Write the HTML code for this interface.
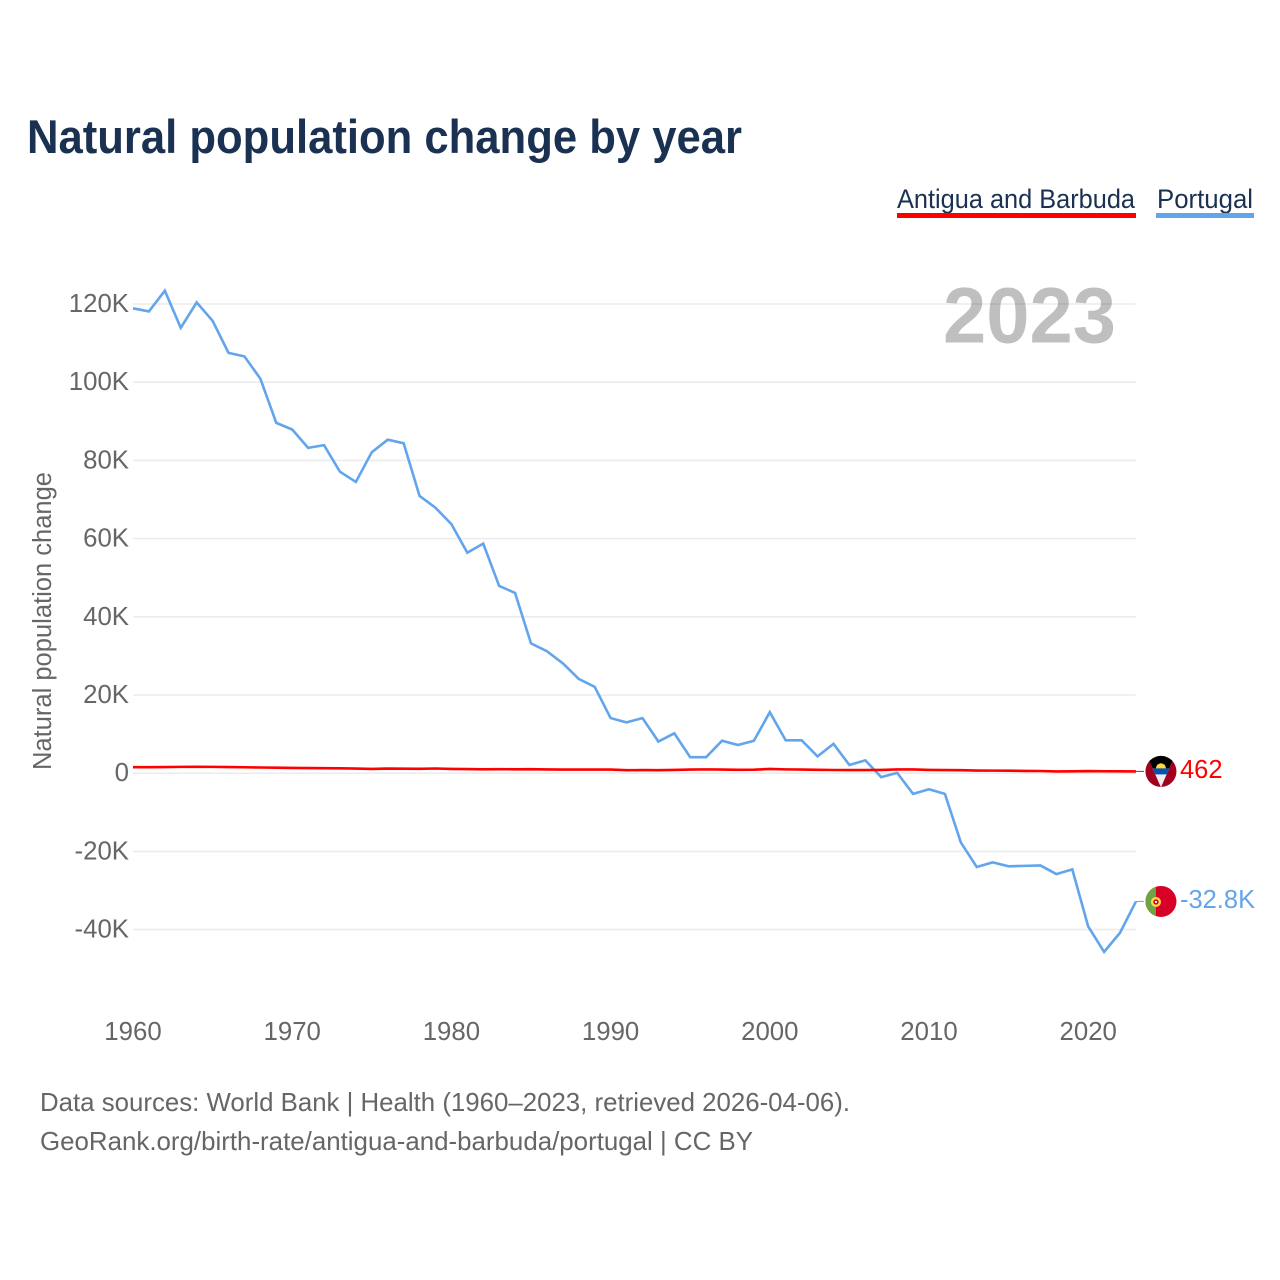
<!DOCTYPE html>
<html lang="en">
<head>
<meta charset="utf-8">
<title>Natural population change by year</title>
<style>
html,body{margin:0;padding:0;background:#fff;width:1280px;height:1280px;overflow:hidden}
svg{display:block}
text{font-family:"Liberation Sans",sans-serif}
</style>
</head>
<body>
<svg id="chart" xmlns="http://www.w3.org/2000/svg" width="1280" height="1280" viewBox="0 0 1280 1280">
  <defs>
    <clipPath id="flag-clip"><circle cx="0" cy="0" r="15.5"/></clipPath>
    <clipPath id="v-clip"><polygon points="-14,-16 14,-16 0,16"/></clipPath>
  </defs>
  <rect x="0" y="0" width="1280" height="1280" fill="#fff"/>
  <text x="27" y="153" font-size="47" font-weight="700" fill="#1a3152" textLength="715" lengthAdjust="spacingAndGlyphs">Natural population change by year</text>

  <g>
    <text x="897" y="208" font-size="26.5" fill="#1a3152" textLength="238" lengthAdjust="spacingAndGlyphs">Antigua and Barbuda</text>
    <rect x="897" y="213" width="239" height="5" fill="#ff0000"/>
  </g>
  <g>
    <text x="1157" y="208" font-size="26.5" fill="#1a3152" textLength="96" lengthAdjust="spacingAndGlyphs">Portugal</text>
    <rect x="1156" y="213" width="98" height="5" fill="#62a5ec"/>
  </g>

  <g id="grid"></g>
  <g id="yticks"></g>
  <g id="xticks"></g>

  <text transform="translate(51 770) rotate(-90)" x="0" y="0" font-size="25.5" fill="#666" textLength="298" lengthAdjust="spacingAndGlyphs">Natural population change</text>

  <text x="943" y="342.5" font-size="79" font-weight="700" fill="#000" fill-opacity="0.25" textLength="173" lengthAdjust="spacingAndGlyphs">2023</text>

  <g id="series"></g>

  <g id="flag-antigua">
    <g clip-path="url(#flag-clip)">
      <rect x="-16" y="-16" width="32" height="32" fill="#a2001d"/>
      <polygon points="-14,-16 14,-16 0,16" fill="#f0f0f0"/>
      <g clip-path="url(#v-clip)">
        <rect x="-16" y="-16" width="32" height="13" fill="#000"/>
        <rect x="-16" y="-3" width="32" height="6" fill="#0052b4"/>
        <path d="M-5,-3 A5,5 0 0 1 5,-3 Z" fill="#ffda44"/>
        <polygon points="-4.5,-4 -3.5,-7 -1.5,-6 0,-8.5 1.5,-6 3.5,-7 4.5,-4" fill="#ffda44"/>
      </g>
    </g>
  </g>
  <g id="flag-portugal">
    <g clip-path="url(#flag-clip)">
      <rect x="-16" y="-16" width="32" height="32" fill="#d80027"/>
      <rect x="-16" y="-16" width="11" height="32" fill="#6da544"/>
      <circle cx="-5" cy="0.5" r="5" fill="#ffda44"/>
      <circle cx="-5" cy="0.5" r="2.7" fill="#d80027"/>
      <circle cx="-5" cy="0.5" r="1.2" fill="#f0f0f0"/>
    </g>
  </g>

  <text x="40" y="1111" font-size="26" fill="#666" textLength="810" lengthAdjust="spacingAndGlyphs">Data sources: World Bank | Health (1960–2023, retrieved 2026-04-06).</text>
  <text x="40" y="1150" font-size="26" fill="#666" textLength="713" lengthAdjust="spacingAndGlyphs">GeoRank.org/birth-rate/antigua-and-barbuda/portugal | CC BY</text>
</svg>
<script>
// Chart data (thousands of people per year)
const startYear = 1960;
const xTickYears = [1960, 1970, 1980, 1990, 2000, 2010, 2020];
const yTickValues = [120, 100, 80, 60, 40, 20, 0, -20, -40];
const yTickLabels = ['120K', '100K', '80K', '60K', '40K', '20K', '0', '-20K', '-40K'];
const portugalValues = [
  118.9, 118.1, 123.4, 113.9, 120.4, 115.7, 107.5, 106.6, 100.9, 89.6,
  87.9, 83.2, 83.9, 77.1, 74.5, 82.1, 85.3, 84.4, 70.9, 67.9,
  63.7, 56.4, 58.7, 47.9, 46.1, 33.2, 31.2, 28.1, 24.1, 22.1,
  14.1, 13.0, 14.1, 8.1, 10.2, 4.1, 4.1, 8.3, 7.2, 8.3,
  15.6, 8.4, 8.4, 4.3, 7.5, 2.1, 3.3, -1.0, 0.1, -5.3,
  -4.1, -5.3, -17.7, -24.0, -22.8, -23.8, -23.7, -23.6, -25.8, -24.6,
  -39.2, -45.7, -40.8, -32.8
];
const antiguaValues = [
  1.55, 1.55, 1.58, 1.62, 1.64, 1.62, 1.58, 1.52, 1.46, 1.40,
  1.35, 1.32, 1.28, 1.24, 1.18, 1.10, 1.18, 1.16, 1.12, 1.20,
  1.10, 1.05, 1.00, 1.03, 1.00, 1.03, 0.96, 0.94, 0.94, 0.94,
  0.92, 0.76, 0.80, 0.78, 0.84, 0.92, 0.98, 0.94, 0.86, 0.90,
  1.08, 0.98, 0.92, 0.86, 0.82, 0.80, 0.80, 0.84, 0.96, 0.96,
  0.84, 0.80, 0.76, 0.68, 0.66, 0.64, 0.58, 0.56, 0.46, 0.48,
  0.54, 0.50, 0.48, 0.462
];

const SVG_NS = 'http://www.w3.org/2000/svg';
const plotLeft = 133;
const yearStep = 15.92;
const zeroY = 773.2;
const pxPerK = 3.91;
function xScale(year) { return plotLeft + (year - startYear) * yearStep; }
function yScale(value) { return zeroY - value * pxPerK; }
function formatValue(v) {
  if (Math.abs(v) < 1) return String(Math.round(v * 1000));
  return v.toFixed(1) + 'K';
}
function linePath(values) {
  return values.map(function (v, i) {
    return (i ? 'L' : 'M') + xScale(startYear + i).toFixed(2) + ' ' + yScale(v).toFixed(2);
  }).join(' ');
}
const plotRight = xScale(startYear + portugalValues.length - 1);

const gridGroup = document.getElementById('grid');
const yTickGroup = document.getElementById('yticks');
yTickValues.forEach(function (v, i) {
  const gridLine = document.createElementNS(SVG_NS, 'line');
  
  
  gridLine.setAttribute('x1', plotLeft);
  gridLine.setAttribute('x2', plotRight);
  gridLine.setAttribute('y1', yScale(v));
  gridLine.setAttribute('y2', yScale(v));
  gridLine.setAttribute('stroke', '#ececec');
  gridLine.setAttribute('stroke-width', '1.6');
  gridGroup.appendChild(gridLine);

  const tick = document.createElementNS(SVG_NS, 'text');
  
  
  tick.setAttribute('x', 129);
  tick.setAttribute('y', yScale(v) + 8);
  tick.setAttribute('text-anchor', 'end');
  tick.setAttribute('font-size', '25.8');
  tick.setAttribute('fill', '#666');
  tick.textContent = yTickLabels[i];
  yTickGroup.appendChild(tick);
});

const xTickGroup = document.getElementById('xticks');
xTickYears.forEach(function (year) {
  const tick = document.createElementNS(SVG_NS, 'text');
  
  
  tick.setAttribute('x', xScale(year));
  tick.setAttribute('y', 1040);
  tick.setAttribute('text-anchor', 'middle');
  tick.setAttribute('font-size', '25.8');
  tick.setAttribute('fill', '#666');
  tick.textContent = String(year);
  xTickGroup.appendChild(tick);
});

const seriesGroup = document.getElementById('series');

function addConnector(values, color) {
  const last = values[values.length - 1];
  const connector = document.createElementNS(SVG_NS, 'line');
  
  
  connector.setAttribute('x1', plotRight);
  connector.setAttribute('x2', plotRight + 8);
  connector.setAttribute('y1', yScale(last));
  connector.setAttribute('y2', yScale(last));
  connector.setAttribute('stroke', color);
  connector.setAttribute('stroke-width', '1');
  seriesGroup.appendChild(connector);
}

function addEndLabel(values, color, dx) {
  const last = values[values.length - 1];
  const label = document.createElementNS(SVG_NS, 'text');
  
  
  label.setAttribute('x', plotRight + dx);
  label.setAttribute('y', yScale(last) + 6.5);
  label.setAttribute('font-size', '25.5');
  label.setAttribute('fill', color);
  label.textContent = formatValue(last);
  seriesGroup.appendChild(label);
}

const portugalLine = document.createElementNS(SVG_NS, 'path');


portugalLine.setAttribute('d', linePath(portugalValues));
portugalLine.setAttribute('fill', 'none');
portugalLine.setAttribute('stroke', '#62a5ec');
portugalLine.setAttribute('stroke-width', '2.6');
portugalLine.setAttribute('stroke-linejoin', 'miter');
seriesGroup.appendChild(portugalLine);

const antiguaLine = document.createElementNS(SVG_NS, 'path');


antiguaLine.setAttribute('d', linePath(antiguaValues));
antiguaLine.setAttribute('fill', 'none');
antiguaLine.setAttribute('stroke', '#ff0000');
antiguaLine.setAttribute('stroke-width', '2.6');
seriesGroup.appendChild(antiguaLine);

addConnector(portugalValues, '#62a5ec');
addConnector(antiguaValues, '#ff0000');
addEndLabel(portugalValues, '#62a5ec', 44);
addEndLabel(antiguaValues, '#ff0000', 44);

document.getElementById('flag-antigua').setAttribute('transform',
  'translate(' + (plotRight + 25) + ' ' + yScale(antiguaValues[antiguaValues.length - 1]) + ')');
document.getElementById('flag-portugal').setAttribute('transform',
  'translate(' + (plotRight + 25) + ' ' + yScale(portugalValues[portugalValues.length - 1]) + ')');
</script>
</body>
</html>
